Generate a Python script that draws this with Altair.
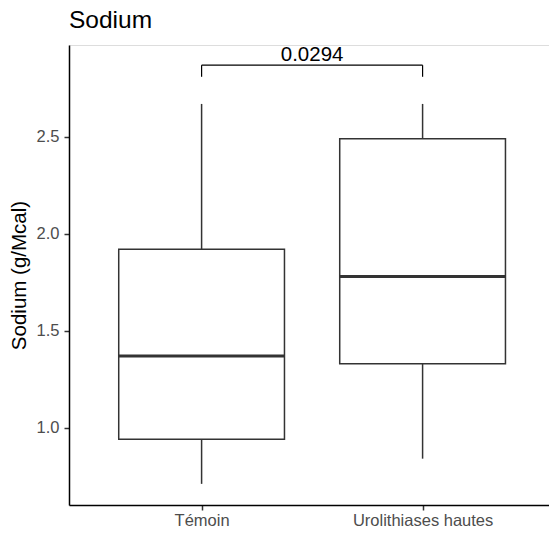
import altair as alt
import pandas as pd

# ---- data ----
groups = ["Témoin", "Urolithiases hautes"]
whisker_low = [0.71, 0.84]
q1 = [0.94, 1.33]
median = [1.37, 1.78]
q3 = [1.92, 2.49]
whisker_high = [2.67, 2.67]

bracket_y = 2.87
bracket_tip = 2.81
p_label = "0.0294"
title_text = "Sodium"
y_title = "Sodium (g/Mcal)"

y_domain = [0.601, 2.974]
x_domain = [0.4, 2.572]
box_half = 0.375

FONT = "Liberation Sans"
LINE = "#333333"

pos = [i + 1 for i in range(len(groups))]
df = pd.DataFrame({
    "group": groups,
    "pos": pos,
    "left": [p - box_half for p in pos],
    "right": [p + box_half for p in pos],
    "lo": whisker_low,
    "q1": q1,
    "med": median,
    "q3": q3,
    "hi": whisker_high,
})

label_expr = " : ".join(
    [f"datum.value == {p} ? '{g}'" for p, g in zip(pos[:-1], groups[:-1])] + [f"'{groups[-1]}'"]
)

xscale = alt.Scale(domain=x_domain, nice=False, zero=False)
yscale = alt.Scale(domain=y_domain, nice=False, zero=False)

xaxis = alt.Axis(values=pos, labelExpr=label_expr, title=None, grid=False,
                 domainColor="black", domainWidth=1.5, tickColor=LINE, tickWidth=1.5,
                 tickSize=5, labelPadding=2, labelColor="#4D4D4D", labelFontSize=16.5,
                 labelFont=FONT)
yaxis = alt.Axis(values=[1.0, 1.5, 2.0, 2.5], format=".1f", title=y_title,
                 grid=False, domainColor="black", domainWidth=1.5, tickColor=LINE,
                 tickWidth=1.5, tickSize=5, labelPadding=5, labelColor="#4D4D4D",
                 labelFontSize=16.5, labelFont=FONT, titleFont=FONT, titleFontSize=20.5,
                 titleFontWeight="normal", titleColor="black", titlePadding=7)

base = alt.Chart(df)

whisk_hi = base.mark_rule(color=LINE, strokeWidth=1.5).encode(
    x=alt.X("pos:Q", scale=xscale, axis=xaxis),
    y=alt.Y("q3:Q", scale=yscale, axis=yaxis),
    y2="hi:Q",
)
whisk_lo = base.mark_rule(color=LINE, strokeWidth=1.5).encode(
    x="pos:Q", y="lo:Q", y2="q1:Q",
)
boxes = base.mark_rect(fill="white", stroke=LINE, strokeWidth=1.5).encode(
    x="left:Q", x2="right:Q", y="q1:Q", y2="q3:Q",
)
meds = base.mark_rule(color=LINE, strokeWidth=3).encode(
    x="left:Q", x2="right:Q", y="med:Q",
)

br = pd.DataFrame({
    "x": [pos[0], pos[0], pos[1]],
    "x2": [pos[1], pos[0], pos[1]],
    "y": [bracket_y, bracket_tip, bracket_tip],
    "y2": [bracket_y, bracket_y, bracket_y],
})
bracket = alt.Chart(br).mark_rule(color="black", strokeWidth=1.2).encode(
    x="x:Q", x2="x2:Q", y="y:Q", y2="y2:Q",
)
ptext = alt.Chart(pd.DataFrame({"x": [(pos[0] + pos[1]) / 2], "y": [bracket_y], "t": [p_label]})).mark_text(
    font=FONT, fontSize=20.5, baseline="alphabetic", dy=-4, color="black"
).encode(x="x:Q", y="y:Q", text="t:N")

# chart title drawn as a text annotation just above the plot's top-left corner
title_mark = alt.Chart(pd.DataFrame({"t": [title_text]})).mark_text(
    font=FONT, fontSize=24.5, baseline="alphabetic", align="left", color="black"
).encode(x=alt.value(0), y=alt.value(-17), text="t:N")

chart = alt.layer(whisk_hi, whisk_lo, boxes, meds, bracket, ptext, title_mark).properties(
    width=480, height=460,
    autosize=alt.AutoSizeParams(type="none"),
    padding={"left": 61, "top": 37, "right": 0, "bottom": 22},
).configure_view(stroke=None).configure(background="white")

chart.save("out.html", embed_options={"renderer": "svg", "actions": False})
